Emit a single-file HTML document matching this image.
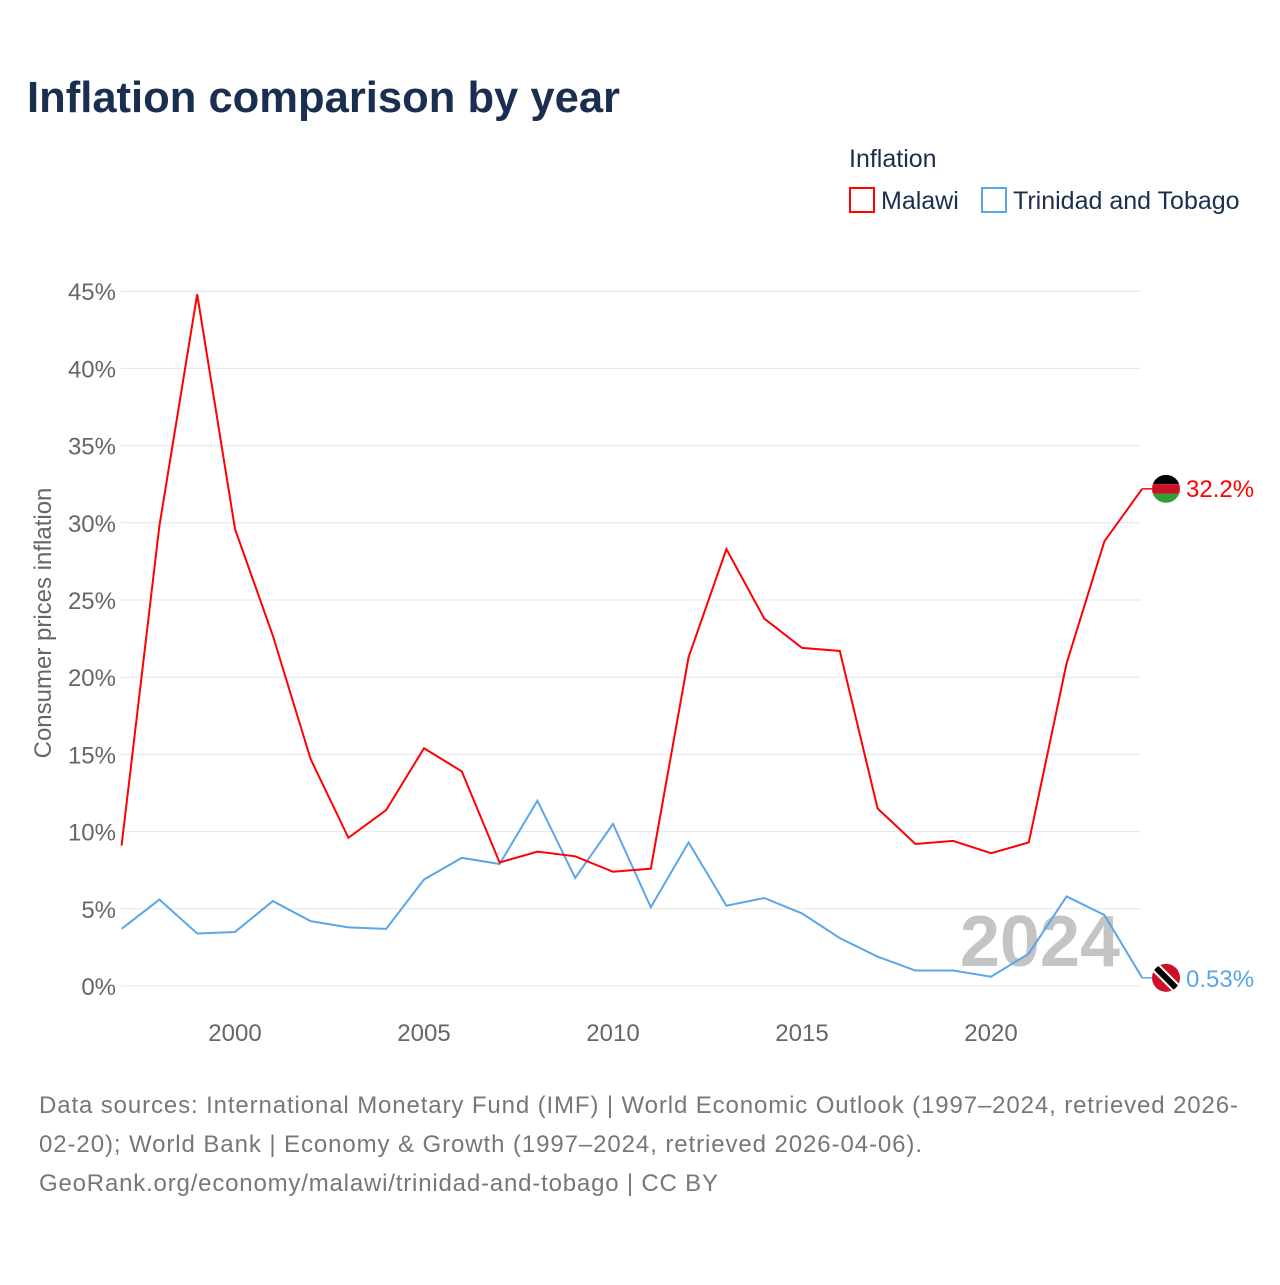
<!DOCTYPE html>
<html><head><meta charset="utf-8"><style>
body{margin:0;background:#fff;font-family:"Liberation Sans",sans-serif;}
svg text{font-family:"Liberation Sans",sans-serif;}
</style></head><body>
<svg id="chart" width="1280" height="1280" xmlns="http://www.w3.org/2000/svg">
<text x="27" y="112" font-size="44" font-weight="bold" fill="#1a2e4f" textLength="593" lengthAdjust="spacingAndGlyphs">Inflation comparison by year</text>
<text x="849" y="167" font-size="25" fill="#1a2e4f">Inflation</text>
<g><rect x="850" y="188" width="24" height="24" fill="none" stroke="#ff0000" stroke-width="2"/><text x="881" y="209" font-size="25" fill="#1a2e4f">Malawi</text></g>
<g><rect x="982" y="188" width="24" height="24" fill="none" stroke="#5aa6e8" stroke-width="2"/><text x="1013" y="209" font-size="25" fill="#1a2e4f">Trinidad and Tobago</text></g>
<g id="grid"></g>
<text x="1120" y="966" font-size="72" font-weight="bold" fill="#c4c4c4" text-anchor="end">2024</text>
<g id="xaxis"></g>
<text transform="translate(51,623) rotate(-90)" font-size="24" fill="#666" text-anchor="middle">Consumer prices inflation</text>
<g id="series"></g>
<text font-size="24" fill="#777"><tspan x="39" y="1113" textLength="1199" lengthAdjust="spacing">Data sources: International Monetary Fund (IMF) | World Economic Outlook (1997–2024, retrieved 2026-</tspan><tspan x="39" y="1152" textLength="883" lengthAdjust="spacing">02-20); World Bank | Economy &amp; Growth (1997–2024, retrieved 2026-04-06).</tspan><tspan x="39" y="1191" textLength="679" lengthAdjust="spacing">GeoRank.org/economy/malawi/trinidad-and-tobago | CC BY</tspan></text>
</svg>
<script>
const years=[1997,1998,1999,2000,2001,2002,2003,2004,2005,2006,2007,2008,2009,2010,2011,2012,2013,2014,2015,2016,2017,2018,2019,2020,2021,2022,2023,2024];
const malawi=[9.1,29.8,44.8,29.6,22.7,14.7,9.6,11.4,15.4,13.9,8.0,8.7,8.4,7.4,7.6,21.3,28.3,23.8,21.9,21.7,11.5,9.2,9.4,8.6,9.3,20.9,28.8,32.2];
const trinidad=[3.7,5.6,3.4,3.5,5.5,4.2,3.8,3.7,6.9,8.3,7.9,12.0,7.0,10.5,5.1,9.3,5.2,5.7,4.7,3.1,1.9,1.0,1.0,0.6,2.1,5.8,4.6,0.53];
const yTicks=[0,5,10,15,20,25,30,35,40,45];
const xTicks=[2000,2005,2010,2015,2020];
const NS='http://www.w3.org/2000/svg';
const x=v=>121.6+(v-1997)*37.8;
const y=v=>986-v*15.44;
function mk(tag,attrs,parent){const e=document.createElementNS(NS,tag);for(const k in attrs)e.setAttribute(k,attrs[k]);parent.appendChild(e);return e;}
const grid=document.getElementById('grid');
yTicks.forEach(t=>{
 const l=mk('line',{x1:121,x2:1141,y1:y(t),y2:y(t),stroke:'#e6e6e6','stroke-width':1},grid);
 
 
 const tx=mk('text',{x:116,y:y(t)+9,'font-size':24,fill:'#666','text-anchor':'end'},grid);
 tx.textContent=t+'%';
 
 
});
const xa=document.getElementById('xaxis');
xTicks.forEach(t=>{
 const tx=mk('text',{x:x(t),y:1041,'font-size':24,fill:'#666','text-anchor':'middle'},xa);
 tx.textContent=t;
 
 
});
const s=document.getElementById('series');
function line(vals,color,name){
 const p=mk('polyline',{points:vals.map((v,i)=>x(years[i])+','+y(v)).join(' '),fill:'none',stroke:color,'stroke-width':2},s);
 
 
}
line(trinidad,'#5aa6e8','trinidad-line');
line(malawi,'#ff0000','malawi-line');
const mLast=malawi[malawi.length-1], tLast=trinidad[trinidad.length-1];
const lx=x(2024);
mk('line',{x1:lx,x2:1152,y1:y(mLast),y2:y(mLast),stroke:'#ff0000','stroke-width':1.5},s);
const fm=mk('g',{},s);


const cyM=y(mLast);
const cpm=mk('clipPath',{id:'cm'},fm);mk('circle',{cx:1166,cy:cyM,r:14},cpm);
mk('rect',{x:1152,y:cyM-14,width:28,height:9.3,fill:'#000','clip-path':'url(#cm)'},fm);
mk('rect',{x:1152,y:cyM-4.7,width:28,height:9.4,fill:'#ce1126','clip-path':'url(#cm)'},fm);
mk('rect',{x:1152,y:cyM+4.7,width:28,height:9.3,fill:'#339e35','clip-path':'url(#cm)'},fm);
const ml=mk('text',{x:1186,y:cyM+8,'font-size':24,fill:'#ff0000'},s);ml.textContent=mLast+'%';


const cyT=y(tLast);
mk('line',{x1:lx,x2:1152,y1:cyT,y2:cyT,stroke:'#5aa6e8','stroke-width':1.5},s);
const ft=mk('g',{},s);


const cp=mk('clipPath',{id:'ct'},ft);mk('circle',{cx:1166,cy:cyT,r:14},cp);
mk('circle',{cx:1166,cy:cyT,r:14,fill:'#ce1126'},ft);
mk('line',{x1:1152,y1:cyT-14,x2:1180,y2:cyT+14,stroke:'#fff','stroke-width':10,'clip-path':'url(#ct)'},ft);
mk('line',{x1:1152,y1:cyT-14,x2:1180,y2:cyT+14,stroke:'#000','stroke-width':6,'clip-path':'url(#ct)'},ft);
const tl=mk('text',{x:1186,y:cyT+9,'font-size':24,fill:'#5aa6e8'},s);tl.textContent=tLast+'%';


</script>
</body></html>
